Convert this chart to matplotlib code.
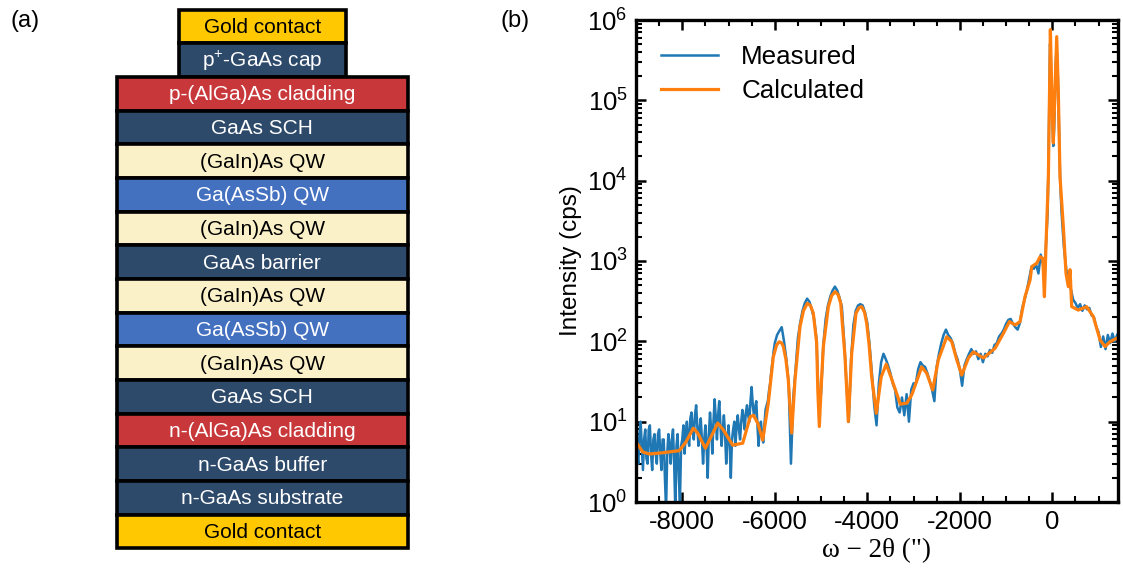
import numpy as np
import matplotlib.pyplot as plt
from matplotlib.patches import Rectangle
from matplotlib.ticker import FixedLocator, LogLocator, NullFormatter

plt.rcParams['font.family'] = ['Liberation Sans', 'DejaVu Sans']
plt.rcParams['mathtext.fontset'] = 'custom'
plt.rcParams['mathtext.rm'] = 'Liberation Sans'
plt.rcParams['mathtext.it'] = 'Liberation Sans:italic'
plt.rcParams['axes.unicode_minus'] = False

# ---- panel (a): layer stack, top to bottom ----
layer_names = ["Gold contact", "p$^{+}$-GaAs cap", "p-(AlGa)As cladding", "GaAs SCH",
               "(GaIn)As QW", "Ga(AsSb) QW", "(GaIn)As QW", "GaAs barrier",
               "(GaIn)As QW", "Ga(AsSb) QW", "(GaIn)As QW", "GaAs SCH",
               "n-(AlGa)As cladding", "n-GaAs buffer", "n-GaAs substrate", "Gold contact"]
layer_kind = ["gold", "navy", "red", "navy", "cream", "blue", "cream", "navy",
              "cream", "blue", "cream", "navy", "red", "navy", "navy", "gold"]
layer_narrow = [True, True] + [False] * 14

kind_color = {"gold": "#FFC800", "navy": "#2E4A6A", "red": "#C8383A",
              "cream": "#FBF1C8", "blue": "#4470C0"}
kind_text = {"gold": "black", "navy": "white", "red": "white",
             "cream": "black", "blue": "white"}

# ---- panel (b): XRD omega-2theta scan ----
calc_x = [-9000, -8855, -8712, -8423, -8064, -7919, -7761, -7666, -7500, -7377,
          -7233, -7112, -6910, -6693, -6530, -6460, -6370, -6261, -6140, -6032,
          -5960, -5902, -5850, -5815, -5760, -5707, -5670, -5634, -5600, -5563,
          -5455, -5380, -5297, -5230, -5167, -5094, -5070, -5037, -5000, -4950,
          -4842, -4770, -4697, -4630, -4574, -4481, -4445, -4410, -4375, -4337,
          -4244, -4180, -4121, -4060, -4013, -3960, -3905, -3805, -3700, -3590,
          -3473, -3285, -3147, -3039, -2823, -2715, -2585, -2464, -2282, -2174,
          -2066, -1958, -1814, -1706, -1490, -1237, -1057, -927, -804, -698,
          -590, -481, -444, -336, -264, -206, -171, -135, -85, -42,
          -6, 22, 44, 95, 130, 166, 238, 296, 346, 383,
          419, 562, 743, 887, 1032, 1140, 1248, 1392]
calc_y = [5.6, 4.2, 3.96, 4.1, 4.36, 5.6, 8.3, 7.2, 4.66, 6.5,
          9.6, 7.9, 5.1, 5.4, 11.5, 12.0, 9.6, 5.9, 17, 64,
          90, 99, 95, 86, 60, 33, 15, 7.2, 15, 33,
          152, 240, 297, 280, 224, 95, 25, 8.7, 25, 86,
          270, 370, 415, 380, 297, 64, 25, 10, 25, 71,
          224, 262, 270, 230, 168, 90, 36, 12.7, 36, 52,
          34, 16.5, 17, 21.5, 48, 40, 24.8, 59, 114, 99,
          59, 38, 62, 74, 62, 82, 126, 176, 160, 176,
          360, 580, 850, 940, 1130, 1080, 360, 1670, 11200, 760000,
          93000, 29500, 76000, 620000, 124000, 11200, 2700, 700, 480, 780,
          270, 245, 270, 203, 104, 86, 99, 109]

# measured, -9000 .. -6025 every 25
meas_y_noisy = [9, 4, 3, 7, 10, 5, 2.5, 6, 8, 3.5,
                3, 8, 9, 4, 2.5, 6, 7, 4, 3, 7,
                8, 4, 2.5, 6, 6, 2, 0.8, 4, 7, 5,
                3, 6, 8, 3, 0.8, 5, 7, 2, 1.0, 5,
                6, 9, 4, 7, 10, 6, 5, 11, 13, 8,
                6, 12, 16, 9, 5, 8, 11, 6, 3, 6,
                9, 5, 2, 7, 13, 8, 4, 10, 19, 11,
                6, 12, 18, 9, 5, 8, 12, 7, 3, 6,
                9, 5, 2, 6, 8, 10, 5, 9, 12, 8,
                6, 10, 14, 11, 8, 13, 16, 12, 10, 18,
                27, 16, 12, 15, 18, 9, 5, 8, 10, 7,
                5.5, 9, 14, 16, 18, 24, 30, 42, 55, 75]
# measured, -6000 .. -300 every 50
meas_y_mid = [95, 120, 135, 150, 100, 60, 30, 3, 20, 45,
              110, 170, 240, 300, 340, 310, 250, 190, 110, 18,
              22, 90, 190, 280, 360, 430, 480, 430, 350, 270,
              100, 30, 10, 60, 160, 240, 280, 290, 280, 230,
              170, 90, 40, 16, 9, 30, 55, 70, 60, 50,
              40, 30, 25, 15, 13, 20, 12, 22, 10, 25,
              30, 30, 45, 55, 50, 48, 40, 32, 25, 18,
              48, 70, 95, 120, 140, 120, 110, 95, 72, 60,
              45, 28, 50, 60, 70, 80, 70, 75, 60, 70,
              55, 70, 65, 78, 72, 90, 95, 115, 125, 140,
              165, 185, 190, 165, 150, 140, 170, 260, 330, 430,
              600, 850, 800, 900, 700]
peak_x = [-250, -200, -170, -140, -100, -70, -50, -35, -20, 0, 20, 40,
          60, 80, 100, 120, 140, 170, 200, 250, 300, 350]
peak_y = [1200, 900, 500, 1500, 4000, 60000, 500000, 400000, 150000, 60000, 27000, 45000,
          120000, 350000, 400000, 200000, 60000, 10000, 4000, 1500, 800, 520]
# measured, 400 .. 1400 every 50
meas_y_high = [450, 330, 300, 260, 290, 240, 280, 250, 260, 210, 200,
               150, 130, 85, 115, 80, 120, 95, 125, 100, 120]

meas_x = np.r_[np.arange(-9000, -6000, 25), np.arange(-6000, -299, 50),
               peak_x, np.arange(400, 1401, 50)]
meas_y = np.r_[meas_y_noisy, meas_y_mid, peak_y, meas_y_high]

x_ticks = [-8000, -6000, -4000, -2000, 0]
x_ticklabels = ["-8000", "-6000", "-4000", "-2000", "0"]

W, H = 1123, 579
fig = plt.figure(figsize=(W / 100, H / 100), dpi=100)

# left panel in pixel coordinates
axl = fig.add_axes([0, 0, 1, 1], zorder=-1)
axl.set_xlim(0, W)
axl.set_ylim(H, 0)
axl.axis('off')

top, lh = 9.5, 33.67
wide = (116.5, 408)
narrow = (179, 346)
for i, (name, kind, nar) in enumerate(zip(layer_names, layer_kind, layer_narrow)):
    x0, x1 = narrow if nar else wide
    y0 = top + i * lh
    axl.add_patch(Rectangle((x0, y0), x1 - x0, lh, facecolor=kind_color[kind],
                            edgecolor='black', lw=2.6))
    axl.text((x0 + x1) / 2, y0 + lh / 2 + 1, name, ha='center', va='center',
             fontsize=15, color=kind_text[kind])

fig.text(10 / W, 1 - 21 / H, "(a)", fontsize=17, va='center', ha='left')
fig.text(500 / W, 1 - 21 / H, "(b)", fontsize=17, va='center', ha='left')

# right panel
ax = fig.add_axes([636 / W, 1 - 502 / H, 482 / W, 482 / H])
ax.plot(meas_x, meas_y, color='#1f77b4', lw=1.8, label='Measured')
ax.plot(calc_x, calc_y, color='#ff7f0e', lw=2.3, label='Calculated')
ax.set_yscale('log')
ax.set_xlim(-9000, 1420)
ax.set_ylim(1, 1e6)
ax.xaxis.set_major_locator(FixedLocator(x_ticks))
ax.set_xticklabels(x_ticklabels)
ax.xaxis.set_minor_locator(FixedLocator(np.arange(-8500, 1500, 500)))
ax.yaxis.set_major_locator(LogLocator(base=10, numticks=10))
ax.yaxis.set_minor_locator(LogLocator(base=10, subs=np.arange(2, 10), numticks=10))
ax.yaxis.set_minor_formatter(NullFormatter())
ax.tick_params(which='both', direction='in', top=True, right=True, labelsize=18.5)
ax.tick_params(which='major', length=7, width=1.8, pad=6)
ax.tick_params(which='minor', length=4, width=1.5)
for s in ax.spines.values():
    s.set_linewidth(2.4)
ax.set_ylabel("Intensity (cps)", fontsize=17.5, labelpad=4)
ax.set_xlabel('ω − 2θ (")', fontsize=19.5, family=['Liberation Serif', 'DejaVu Serif'],
              labelpad=3)
ax.legend(loc='upper left', frameon=False, fontsize=18.7, handlelength=2.2,
          handletextpad=0.9, labelspacing=0.4, borderaxespad=0.55)

fig.savefig('out.png', dpi=100)
